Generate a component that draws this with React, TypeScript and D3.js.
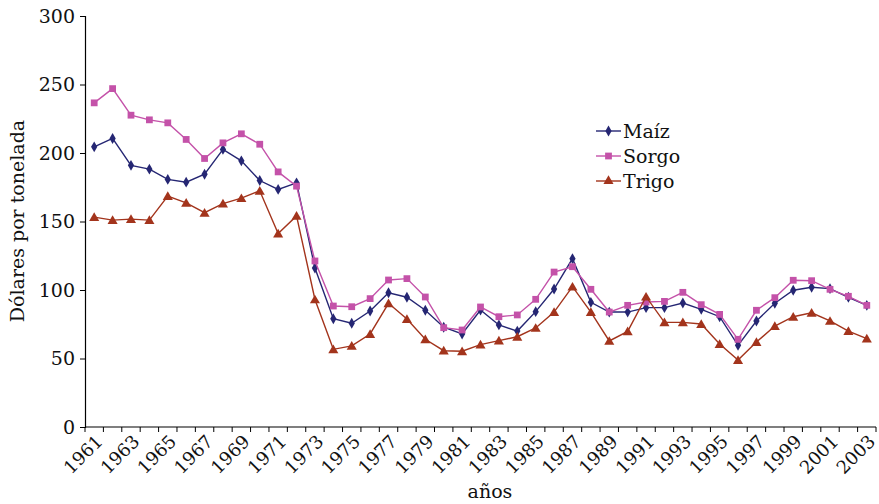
import { useEffect, useRef } from "react";
import * as d3 from "d3";

const YEARS = d3.range(1961, 2004).map(String);

const MAIZ = [
  204.5, 210.6, 191, 188.2, 180.7, 178.7, 184.5, 202.6, 194.3, 179.9, 173.4, 178.2, 116,
  79, 75.7, 84.7, 98, 94.7, 85.2, 72.8, 67.9, 85.4, 74.5, 70, 84.2, 100.7, 122.9,
  91, 83.9, 83.9, 87.1, 87.1, 90.5, 85.9, 80.5, 59.6, 77.4, 90.3, 99.8, 102, 101, 94.7, 88.8,
];
const SORGO = [
  236.6, 247, 227.6, 224.2, 222, 209.9, 196, 207.4, 214, 206.4, 186.2, 175.8, 121.2,
  88.3, 87.8, 93.7, 107.3, 108.3, 94.9, 72.5, 70.8, 87.6, 80.5, 81.8, 93.2, 113.1, 117,
  100.5, 83.9, 88.8, 91.2, 91.7, 98.3, 89.3, 82.2, 64, 85.2, 94.4, 107.1, 106.8, 100.5, 95.4, 88.8,
];
const TRIGO = [
  153.2, 151, 151.7, 151, 168.5, 163.6, 156.4, 163.1, 167, 172.4, 141.2, 154.1, 93.1,
  56.7, 59.2, 67.9, 90.3, 78.8, 64, 55.7, 55.3, 60.1, 63, 65.9, 72.3, 83.9, 102.4,
  83.9, 62.8, 69.8, 95.1, 76.4, 76.4, 75.2, 60.6, 48.9, 62, 73.7, 80.5, 83.4, 77.4, 70, 64.5,
];
const Y_TICKS = [0, 50, 100, 150, 200, 250, 300];

const SERIES = [
  { name: "Maíz", values: MAIZ, color: "#252673", symbol: d3.symbolDiamond, size: 34 },
  { name: "Sorgo", values: SORGO, color: "#c452a9", symbol: d3.symbolSquare, size: 46 },
  { name: "Trigo", values: TRIGO, color: "#a3341c", symbol: d3.symbolTriangle, size: 44 },
];

const W = 879, H = 504;
const FONT = "'DejaVu Serif', serif";

export default function App() {
  const svgRef = useRef<SVGSVGElement>(null);

  useEffect(() => {
    if (!svgRef.current) return;
    const svg = d3.select(svgRef.current);
    svg.selectAll("*").remove();

    const x = d3.scaleBand().domain(YEARS).range([85, 876]);
    const y = d3.scaleLinear().domain([0, 300]).range([427, 16]);
    const cx = (yr: string) => x(yr)! + x.bandwidth() / 2;

    // y axis
    const yAx = svg.append("g").attr("transform", "translate(85,0)")
      .call(d3.axisLeft(y).tickValues(Y_TICKS).tickSize(5).tickPadding(5).tickFormat(d3.format("d")));
    yAx.select(".domain").attr("stroke", "#000").attr("stroke-width", 1.2);
    yAx.selectAll(".tick line").attr("stroke", "#000");
    yAx.selectAll("text").attr("font-family", FONT).attr("font-size", "19px").attr("fill", "#111");

    // x axis: ticks between categories
    const g = svg.append("g");
    g.append("line").attr("x1", 85).attr("x2", 876).attr("y1", y(0)).attr("y2", y(0))
      .attr("stroke", "#000").attr("stroke-width", 1.2);
    const bounds = [...YEARS.map(d => x(d)!), 876];
    g.selectAll(".xt").data(bounds).join("line")
      .attr("x1", d => d).attr("x2", d => d).attr("y1", y(0)).attr("y2", y(0) + 5)
      .attr("stroke", "#000");
    g.selectAll(".xl").data(YEARS.filter((_, i) => i % 2 === 0)).join("text")
      .attr("transform", d => `translate(${cx(d) + 6},${y(0) + 12}) rotate(-45)`)
      .attr("text-anchor", "end").attr("dominant-baseline", "middle")
      .attr("font-family", FONT).attr("font-size", "18px").attr("fill", "#111")
      .text(d => d);

    // lines + markers
    SERIES.forEach(s => {
      const line = d3.line<number>().x((_, i) => cx(YEARS[i])).y(d => y(d));
      svg.append("path").datum(s.values).attr("d", line)
        .attr("fill", "none").attr("stroke", s.color).attr("stroke-width", 1.4);
      svg.append("g").selectAll("path").data(s.values).join("path")
        .attr("transform", (d, i) => `translate(${cx(YEARS[i])},${y(d) + (s.name === "Trigo" ? 1 : 0)})`)
        .attr("d", d3.symbol(s.symbol, s.size)())
        .attr("fill", s.color);
    });

    // legend
    const lg = svg.append("g").attr("transform", "translate(596,131)");
    SERIES.forEach((s, i) => {
      const r = lg.append("g").attr("transform", `translate(0,${i * 25})`);
      r.append("line").attr("x1", 0).attr("x2", 25).attr("stroke", s.color).attr("stroke-width", 1.4);
      r.append("path").attr("transform", "translate(12.5,0)").attr("d", d3.symbol(s.symbol, s.size)()).attr("fill", s.color);
      r.append("text").attr("x", 27).attr("y", 0).attr("dominant-baseline", "central")
        .attr("font-family", FONT).attr("font-size", "19px").attr("fill", "#111").text(s.name);
    });

    // axis titles
    svg.append("text").attr("transform", "translate(24,221) rotate(-90)")
      .attr("text-anchor", "middle").attr("font-family", FONT).attr("font-size", "19px").attr("fill", "#111")
      .text("Dólares por tonelada");
    svg.append("text").attr("x", 490).attr("y", 498)
      .attr("text-anchor", "middle").attr("font-family", FONT).attr("font-size", "19px").attr("fill", "#111")
      .text("años");
  }, []);

  return (
    <svg ref={svgRef} width={W} height={H}
      style={{ position: "absolute", left: 0, top: 0, background: "#fff" }} />
  );
}
